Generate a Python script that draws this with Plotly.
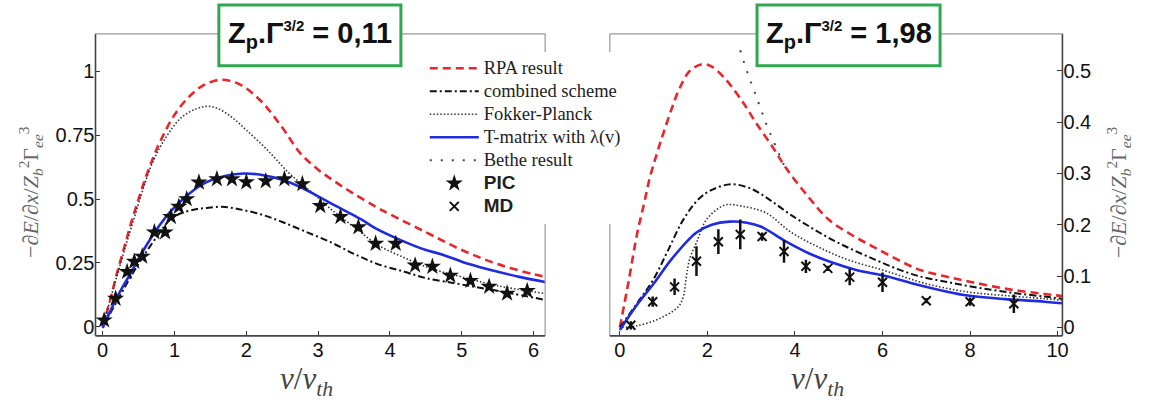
import plotly.graph_objects as go

# ---------------- data (left panel: Zp.Γ^3/2 = 0,11) ----------------
rpa_l_v = [0, 0.1, 0.2, 0.3, 0.4, 0.5, 0.6, 0.7, 0.8, 1.0, 1.2, 1.4, 1.64, 1.9, 2.2, 2.5, 2.75, 3.0, 3.25, 3.5, 3.8, 4.0, 4.5, 5.0, 5.5, 6.0, 6.16]
rpa_l_y = [0, 0.1, 0.21, 0.31, 0.41, 0.5, 0.585, 0.66, 0.725, 0.83, 0.9, 0.945, 0.967, 0.95, 0.885, 0.78, 0.68, 0.615, 0.565, 0.52, 0.47, 0.44, 0.37, 0.30, 0.245, 0.205, 0.195]

comb_l_v = [0, 0.2, 0.4, 0.6, 0.8, 0.94, 1.1, 1.3, 1.45, 1.66, 1.9, 2.2, 2.5, 2.8, 3.18, 3.5, 3.83, 4.2, 4.5, 4.9, 5.2, 5.6, 6.16]
comb_l_y = [0, 0.1, 0.2, 0.29, 0.37, 0.42, 0.445, 0.46, 0.465, 0.47, 0.46, 0.44, 0.41, 0.375, 0.33, 0.285, 0.245, 0.215, 0.19, 0.17, 0.155, 0.135, 0.105]

fp_l_v = [0, 0.2, 0.4, 0.69, 0.9, 1.1, 1.3, 1.45, 1.6, 1.8, 2.0, 2.3, 2.6, 2.91, 3.2, 3.5, 3.83, 4.2, 4.6, 5.0, 5.5, 6.16]
fp_l_y = [0, 0.2, 0.39, 0.64, 0.75, 0.82, 0.853, 0.863, 0.855, 0.82, 0.77, 0.69, 0.6, 0.527, 0.455, 0.39, 0.32, 0.27, 0.225, 0.195, 0.16, 0.13]

tm_l_v = [0, 0.19, 0.4, 0.58, 0.8, 0.94, 1.2, 1.44, 1.7, 1.96, 2.2, 2.5, 2.8, 3.0, 3.3, 3.6, 3.8, 4.1, 4.5, 4.7, 5.1, 5.5, 5.8, 6.16]
tm_l_y = [-0.005, 0.11, 0.215, 0.305, 0.4, 0.45, 0.52, 0.565, 0.59, 0.6, 0.595, 0.575, 0.54, 0.51, 0.465, 0.42, 0.385, 0.345, 0.3, 0.285, 0.245, 0.215, 0.195, 0.175]

pic_v = [0.02, 0.18, 0.34, 0.44, 0.55, 0.72, 0.87, 0.95, 1.06, 1.17, 1.34, 1.59, 1.8, 2.0, 2.27, 2.53, 2.78, 3.03, 3.31, 3.56, 3.8, 4.08, 4.35, 4.59, 4.84, 5.12, 5.38, 5.63, 5.91]
pic_y = [0.025, 0.11, 0.215, 0.255, 0.275, 0.37, 0.37, 0.43, 0.47, 0.5, 0.565, 0.578, 0.578, 0.566, 0.57, 0.578, 0.559, 0.473, 0.43, 0.39, 0.325, 0.325, 0.24, 0.235, 0.2, 0.18, 0.157, 0.13, 0.14]

# ---------------- data (right panel: Zp.Γ^3/2 = 1,98) ----------------
rpa_r_v = [0, 0.2, 0.4, 0.55, 0.68, 0.85, 1.0, 1.2, 1.36, 1.6, 1.9, 2.1, 2.4, 2.8, 3.1, 3.5, 3.8, 4.3, 4.77, 5.3, 5.77, 6.3, 6.82, 7.4, 8.05, 8.9, 9.7, 10.1]
rpa_r_y = [0, 0.09, 0.185, 0.24, 0.29, 0.34, 0.38, 0.43, 0.465, 0.5, 0.513, 0.508, 0.485, 0.44, 0.4, 0.35, 0.31, 0.255, 0.21, 0.18, 0.158, 0.134, 0.113, 0.1, 0.088, 0.074, 0.065, 0.061]

comb_r_v = [0, 0.4, 0.77, 1.1, 1.45, 1.8, 2.1, 2.55, 3.0, 3.4, 3.84, 4.3, 4.8, 5.3, 5.8, 6.3, 6.82, 7.5, 8.2, 9.0, 9.7, 10.1]
comb_r_y = [0, 0.048, 0.094, 0.15, 0.21, 0.25, 0.268, 0.279, 0.27, 0.25, 0.223, 0.198, 0.173, 0.152, 0.133, 0.115, 0.1, 0.088, 0.077, 0.067, 0.06, 0.056]

fp_r_v = [0.05, 0.39, 0.9, 1.33, 1.45, 1.52, 1.6, 1.75, 1.98, 2.39, 2.8, 3.34, 3.9, 4.5, 5.2, 6.07, 7.0, 7.95, 8.8, 9.7, 10.1]
fp_r_y = [0, 0.003, 0.017, 0.04, 0.06, 0.1, 0.135, 0.165, 0.21, 0.238, 0.236, 0.223, 0.186, 0.158, 0.132, 0.11, 0.085, 0.069, 0.062, 0.056, 0.053]

tm_r_v = [0, 0.4, 0.77, 1.2, 1.75, 2.1, 2.5, 2.9, 3.23, 3.8, 4.3, 4.8, 5.4, 6.07, 6.8, 7.4, 7.95, 8.8, 9.7, 10.1]
tm_r_y = [-0.005, 0.045, 0.085, 0.135, 0.185, 0.2, 0.206, 0.204, 0.196, 0.167, 0.145, 0.128, 0.112, 0.1, 0.083, 0.071, 0.062, 0.055, 0.05, 0.047]

bethe_r_v = [2.75, 2.9, 3.05, 3.2, 3.35, 3.5, 3.65, 3.78]
bethe_r_y = [0.54, 0.5, 0.465, 0.43, 0.395, 0.365, 0.335, 0.31]

md_v = [0.25, 0.75, 1.25, 1.75, 2.25, 2.75, 3.25, 3.75, 4.25, 4.75, 5.25, 6, 7, 8, 9]
md_y = [0.004, 0.05, 0.079, 0.129, 0.167, 0.181, 0.177, 0.148, 0.119, 0.115, 0.098, 0.088, 0.052, 0.05, 0.046]
md_err = [0.008, 0.01, 0.016, 0.029, 0.024, 0.029, 0.008, 0.022, 0.013, 0.005, 0.016, 0.019, 0.005, 0.008, 0.018]

left_xticks = [0, 1, 2, 3, 4, 5, 6]
left_yticks = [0, 0.25, 0.5, 0.75, 1]
left_yticktext = ["0", "0.25", "0.5", "0.75", "1"]
right_xticks = [0, 2, 4, 6, 8, 10]
right_yticks = [0, 0.1, 0.2, 0.3, 0.4, 0.5]

labels = {
    "rpa": "RPA result",
    "comb": "combined scheme",
    "fp": "Fokker-Planck",
    "tm": "T-matrix with λ(v)",
    "bethe": "Bethe result",
    "pic": "PIC",
    "md": "MD",
}
box_left_value = "0,11"
box_right_value = "1,98"

# ---------------- styles ----------------
RED = "#e8262b"
BLUE = "#1f2be0"
BLACK = "#111111"
GREEN = "#2fa84f"

st_rpa = dict(color=RED, width=2.6, dash="8px,5px")
st_comb = dict(color=BLACK, width=2, dash="7px,3px,2px,3px")
st_fp = dict(color="#333333", width=1.6, dash="1.5px,2px")
st_tm = dict(color=BLUE, width=2.6)
st_bethe = dict(color="#444444", width=2, dash="2px,9px")

def lg(txt, serif=True):
    if serif:
        return '<span style="font-size:18.5px">' + txt + '</span>'
    return ('<span style="font-family:Liberation Sans, Arial, sans-serif;'
            'font-size:19px;font-weight:bold">' + txt + '</span>')

def boxtext(val):
    return ('<b>Z<sub><span style="font-size:20px">p</span></sub>.Γ'
            '<sup><span style="font-size:15px">3/2</span></sup> = ' + val + '</b>')

fig = go.Figure()

# left panel
fig.add_trace(go.Scatter(x=rpa_l_v, y=rpa_l_y, mode="lines", line=st_rpa, line_shape="spline",
                         name=lg(labels["rpa"]), legendrank=1, xaxis="x", yaxis="y"))
fig.add_trace(go.Scatter(x=comb_l_v, y=comb_l_y, mode="lines", line=st_comb, line_shape="spline",
                         name=lg(labels["comb"]), legendrank=2, xaxis="x", yaxis="y"))
fig.add_trace(go.Scatter(x=fp_l_v, y=fp_l_y, mode="lines", line=st_fp, line_shape="spline",
                         name=lg(labels["fp"]), legendrank=3, xaxis="x", yaxis="y"))
fig.add_trace(go.Scatter(x=tm_l_v, y=tm_l_y, mode="lines", line=st_tm, line_shape="spline",
                         name=lg(labels["tm"]), legendrank=4, xaxis="x", yaxis="y"))
fig.add_trace(go.Scatter(x=pic_v, y=pic_y, mode="markers",
                         marker=dict(symbol="star", size=13, color=BLACK, line=dict(width=0)),
                         name=lg(labels["pic"], serif=False), legendrank=6, xaxis="x", yaxis="y"))

# right panel
fig.add_trace(go.Scatter(x=rpa_r_v, y=rpa_r_y, mode="lines", line=st_rpa, line_shape="spline",
                         showlegend=False, xaxis="x2", yaxis="y2"))
fig.add_trace(go.Scatter(x=comb_r_v, y=comb_r_y, mode="lines", line=st_comb, line_shape="spline",
                         showlegend=False, xaxis="x2", yaxis="y2"))
fig.add_trace(go.Scatter(x=fp_r_v, y=fp_r_y, mode="lines", line=st_fp, line_shape="spline",
                         showlegend=False, xaxis="x2", yaxis="y2"))
fig.add_trace(go.Scatter(x=tm_r_v, y=tm_r_y, mode="lines", line=st_tm, line_shape="spline",
                         showlegend=False, xaxis="x2", yaxis="y2"))
fig.add_trace(go.Scatter(x=bethe_r_v, y=bethe_r_y, mode="lines", line=st_bethe, line_shape="spline",
                         name=lg(labels["bethe"]), legendrank=5, xaxis="x2", yaxis="y2"))
fig.add_trace(go.Scatter(x=md_v, y=md_y, mode="markers",
                         marker=dict(symbol="x-thin-open", size=9, color=BLACK, line=dict(width=2, color=BLACK)),
                         error_y=dict(type="data", array=md_err, visible=True, thickness=2.5, width=0, color=BLACK),
                         name=lg(labels["md"], serif=False), legendrank=7, xaxis="x2", yaxis="y2"))

W, H = 1150, 406
def px(x):
    return x / W
def py(y):
    return 1 - y / H

tickfont = dict(family="Liberation Sans, Arial, sans-serif", size=20, color="#111")
common_axis = dict(showgrid=False, zeroline=False, showline=False, ticks="inside", ticklen=5,
                   tickwidth=1.2, tickcolor="#333", tickfont=tickfont)

fig.update_layout(
    width=W, height=H,
    margin=dict(l=0, r=0, t=0, b=0),
    paper_bgcolor="white", plot_bgcolor="white",
    xaxis=dict(domain=[px(96), px(548)], range=[-0.10, 6.16], tickvals=left_xticks,
               anchor="y", **common_axis),
    yaxis=dict(domain=[py(337.5), py(34)], range=[-0.036, 1.147], tickvals=left_yticks,
               ticktext=left_yticktext, anchor="x", **common_axis),
    xaxis2=dict(domain=[px(613), px(1068)], range=[-0.23, 10.11], tickvals=right_xticks,
                anchor="y2", **common_axis),
    yaxis2=dict(domain=[py(337.5), py(34)], range=[-0.0165, 0.572], tickvals=right_yticks,
                anchor="x2", side="right", **common_axis),
    showlegend=True,
    legend=dict(x=px(427), y=py(52), xanchor="left", yanchor="top",
                bgcolor="white", borderwidth=0, itemwidth=49,
                font=dict(family="Liberation Serif, Times New Roman, serif", size=15.4, color="#222"),
                traceorder="normal", itemclick=False),
)

shapes = []
def frame(xd, yd, dark_sides):
    res = []
    sides = {
        "left": dict(x0=0, x1=0, y0=0, y1=1),
        "right": dict(x0=1, x1=1, y0=0, y1=1),
        "bottom": dict(x0=0, x1=1, y0=0, y1=0),
        "top": dict(x0=0, x1=1, y0=1, y1=1),
    }
    for name, c in sides.items():
        dark = name in dark_sides
        res.append(dict(type="line", xref=xd + " domain", yref=yd + " domain", layer="above",
                        line=dict(color="#444" if dark else "#999", width=1.6 if dark else 1.2), **c))
    return res

shapes += frame("x", "y", ["left", "bottom"])
shapes += frame("x2", "y2", ["right", "bottom"])

# green title boxes
shapes.append(dict(type="rect", xref="paper", yref="paper", x0=px(220), x1=px(403), y0=py(66), y1=py(5),
                   line=dict(color=GREEN, width=3), fillcolor="white", layer="above"))
shapes.append(dict(type="rect", xref="paper", yref="paper", x0=px(761), x1=px(945), y0=py(66), y1=py(5),
                   line=dict(color=GREEN, width=3), fillcolor="white", layer="above"))
fig.update_layout(shapes=shapes)

boxfont = dict(family="Liberation Sans, Arial, sans-serif", size=29, color="#111")
ytitle = "−∂<i>E</i>/∂<i>x</i>/<i>Z</i><sub><i>b</i></sub><sup>2</sup>Γ<sub><i>ee</i></sub><sup>3</sup>"
xtitle = "<i>v</i>/<i>v</i><sub><i>th</i></sub>"
serif = "Liberation Serif, Times New Roman, serif"
annotations = [
    dict(text=boxtext(box_left_value), x=px(311.5), y=py(35), xref="paper", yref="paper",
         showarrow=False, font=boxfont, xanchor="center", yanchor="middle"),
    dict(text=boxtext(box_right_value), x=px(853), y=py(35), xref="paper", yref="paper",
         showarrow=False, font=boxfont, xanchor="center", yanchor="middle"),
    dict(text=xtitle, x=px(308), y=py(383), xref="paper", yref="paper", showarrow=False,
         font=dict(family=serif, size=31, color="#444"), xanchor="center", yanchor="middle"),
    dict(text=xtitle, x=px(822), y=py(383), xref="paper", yref="paper", showarrow=False,
         font=dict(family=serif, size=31, color="#444"), xanchor="center", yanchor="middle"),
    dict(text=ytitle, x=px(30), y=py(193), xref="paper", yref="paper", showarrow=False, textangle=-90,
         font=dict(family=serif, size=22, color="#666"), xanchor="center", yanchor="middle"),
    dict(text=ytitle, x=px(1124), y=py(193), xref="paper", yref="paper", showarrow=False, textangle=-90,
         font=dict(family=serif, size=22, color="#666"), xanchor="center", yanchor="middle"),
]
fig.update_layout(annotations=annotations)

fig.write_html("out.html")
